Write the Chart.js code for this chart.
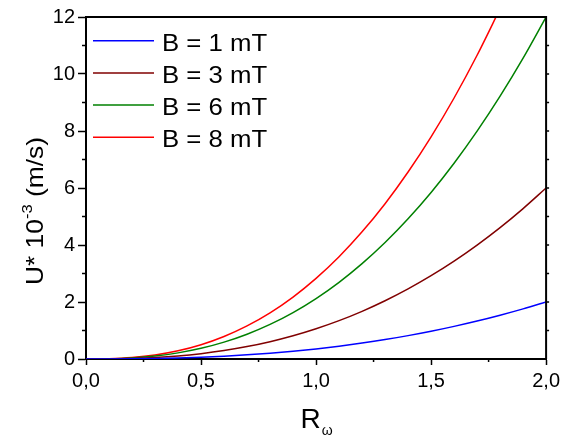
<!DOCTYPE html>
<html>
<head>
<meta charset="utf-8">
<script src="https://cdn.jsdelivr.net/npm/chart.js@4.4.1/dist/chart.umd.min.js"></script>
<style>
  html, body { margin: 0; padding: 0; background: #fff; }
  #wrap { width: 564px; height: 438px; }
</style>
</head>
<body>
<div id="wrap"><canvas id="chart" width="564" height="438"></canvas></div>
<script>
// values
const rOmega = [0, 0.1, 0.2, 0.3, 0.4, 0.5, 0.6, 0.7, 0.8, 0.9, 1.0,
                1.1, 1.2, 1.3, 1.4, 1.5, 1.6, 1.7, 1.8, 1.9, 2.0];
const u1mT = [0, 0.001, 0.006, 0.017, 0.036, 0.063, 0.099, 0.145, 0.202, 0.272, 0.354,
              0.449, 0.558, 0.681, 0.820, 0.974, 1.145, 1.332, 1.537, 1.759, 2.0];
const u3mT = [0, 0.003, 0.019, 0.052, 0.107, 0.188, 0.296, 0.435, 0.607, 0.815, 1.061,
              1.346, 1.673, 2.044, 2.460, 2.923, 3.434, 3.997, 4.610, 5.278, 6.0];
const u6mT = [0, 0.007, 0.038, 0.105, 0.215, 0.375, 0.592, 0.870, 1.214, 1.630, 2.122,
              2.692, 3.347, 4.087, 4.920, 5.845, 6.869, 7.993, 9.221, 10.556, 12.0];
const u8mT = [0, 0.009, 0.051, 0.139, 0.286, 0.500, 0.789, 1.160, 1.619, 2.173, 2.829,
              3.589, 4.462, 5.450, 6.560, 7.794, 9.158, 10.658, 12.294];

const seriesLabels = ['B = 1 mT', 'B = 3 mT', 'B = 6 mT', 'B = 8 mT'];
const seriesValues = [u1mT, u3mT, u6mT, u8mT];
const seriesColors = ['#0000ff', '#800000', '#008000', '#ff0000'];

const xTicks = [0, 0.5, 1.0, 1.5, 2.0];
const xTickLabels = ['0,0', '0,5', '1,0', '1,5', '2,0'];
const yTicks = [0, 2, 4, 6, 8, 10, 12];
const yTickLabels = ['0', '2', '4', '6', '8', '10', '12'];

const FONT = '"Liberation Sans", Arial, sans-serif';

const datasets = seriesValues.map((vals, i) => ({
    label: seriesLabels[i],
    data: vals.map((v, j) => ({ x: rOmega[j], y: v })),
    borderColor: seriesColors[i],
    borderWidth: 1.5,
    pointRadius: 0,
    fill: false,
    cubicInterpolationMode: 'monotone'
}));

// frame, minor ticks, legend and axis titles
const decorations = {
    id: 'decorations',
    afterDraw(chart) {
        const ctx = chart.ctx;
        const a = chart.chartArea;
        const xs = chart.scales.x;
        const ys = chart.scales.y;
        ctx.save();

        // top and right border
        ctx.strokeStyle = '#000';
        ctx.lineWidth = 2;
        ctx.beginPath();
        ctx.moveTo(a.left, a.top);
        ctx.lineTo(a.right, a.top);
        ctx.lineTo(a.right, a.bottom);
        ctx.stroke();

        // minor ticks
        ctx.lineWidth = 1.5;
        ctx.beginPath();
        for (let i = 0; i < xTicks.length - 1; i++) {
            const px = xs.getPixelForValue((xTicks[i] + xTicks[i + 1]) / 2);
            ctx.moveTo(px, a.bottom);
            ctx.lineTo(px, a.bottom + 3);
        }
        for (let i = 0; i < yTicks.length - 1; i++) {
            const py = ys.getPixelForValue((yTicks[i] + yTicks[i + 1]) / 2);
            ctx.moveTo(a.left, py);
            ctx.lineTo(a.left - 4, py);
        }
        for (let v = 1; v < 12; v++) {
            const py = ys.getPixelForValue(v);
            ctx.moveTo(a.right, py);
            ctx.lineTo(a.right + 3, py);
        }
        ctx.stroke();

        // legend inside the plot (text a bit wide, like the original)
        chart.data.datasets.forEach((ds, i) => {
            const ly = 40.7 + i * 32.2;
            ctx.strokeStyle = ds.borderColor;
            ctx.lineWidth = 1.5;
            ctx.beginPath();
            ctx.moveTo(93, ly);
            ctx.lineTo(154, ly);
            ctx.stroke();
            ctx.save();
            ctx.translate(162, ly + 10);
            ctx.scale(1.12, 1);
            ctx.fillStyle = '#000';
            ctx.font = '23px ' + FONT;
            ctx.textAlign = 'left';
            ctx.textBaseline = 'alphabetic';
            ctx.fillText(ds.label, 0, 0);
            ctx.restore();
        });

        // x title: R with subscript omega
        ctx.fillStyle = '#000';
        ctx.textBaseline = 'alphabetic';
        ctx.textAlign = 'left';
        ctx.font = '28px ' + FONT;
        const wR = ctx.measureText('R').width;
        ctx.font = '14px ' + FONT;
        const wW = ctx.measureText('\u03c9').width;
        const cx = (a.left + a.right) / 2;
        const sx = cx - (wR + wW) / 2;
        ctx.font = '28px ' + FONT;
        ctx.fillText('R', sx, 428);
        ctx.font = '14px ' + FONT;
        ctx.fillText('\u03c9', sx + wR + 1, 435);

        // y title: U* 10^-3 (m/s)
        ctx.translate(43, 211);
        ctx.rotate(-Math.PI / 2);
        ctx.scale(1.1, 1);
        ctx.font = '24px ' + FONT;
        const p1 = 'U* 10', p3 = ' (m/s)';
        const w1 = ctx.measureText(p1).width;
        const w3 = ctx.measureText(p3).width;
        ctx.font = '15px ' + FONT;
        const w2 = ctx.measureText('-3').width;
        let tx = -(w1 + w2 + w3) / 2;
        ctx.font = '24px ' + FONT;
        ctx.fillText(p1, tx, 0);
        tx += w1;
        ctx.font = '15px ' + FONT;
        ctx.fillText('-3', tx, -11);
        tx += w2;
        ctx.font = '24px ' + FONT;
        ctx.fillText(p3, tx, 0);

        ctx.restore();
    }
};

new Chart(document.getElementById('chart'), {
    type: 'line',
    data: { datasets: datasets },
    options: {
        responsive: false,
        animation: false,
        events: [],
        layout: { padding: { top: 17, right: 17, left: 0, bottom: 0 } },
        plugins: { legend: { display: false }, tooltip: { enabled: false } },
        scales: {
            x: {
                type: 'linear',
                min: 0,
                max: 2,
                afterBuildTicks: s => { s.ticks = xTicks.map(v => ({ value: v })); },
                afterFit: s => { s.height = 79; },
                ticks: {
                    autoSkip: false,
                    maxRotation: 0,
                    padding: 4,
                    color: '#000',
                    font: { family: FONT, size: 20 },
                    callback: (v, i) => xTickLabels[i]
                },
                grid: { drawOnChartArea: false, drawTicks: true, tickLength: 6, tickColor: '#000', tickWidth: 1.5 },
                border: { display: true, color: '#000', width: 2 }
            },
            y: {
                min: 0,
                max: 12,
                afterBuildTicks: s => { s.ticks = yTicks.map(v => ({ value: v })); },
                afterFit: s => { s.width = 86; },
                ticks: {
                    autoSkip: false,
                    padding: 3,
                    color: '#000',
                    font: { family: FONT, size: 20 },
                    callback: (v, i) => yTickLabels[i]
                },
                grid: { drawOnChartArea: false, drawTicks: true, tickLength: 8, tickColor: '#000', tickWidth: 1.5 },
                border: { display: true, color: '#000', width: 2 }
            }
        }
    },
    plugins: [decorations]
});
</script>
</body>
</html>
